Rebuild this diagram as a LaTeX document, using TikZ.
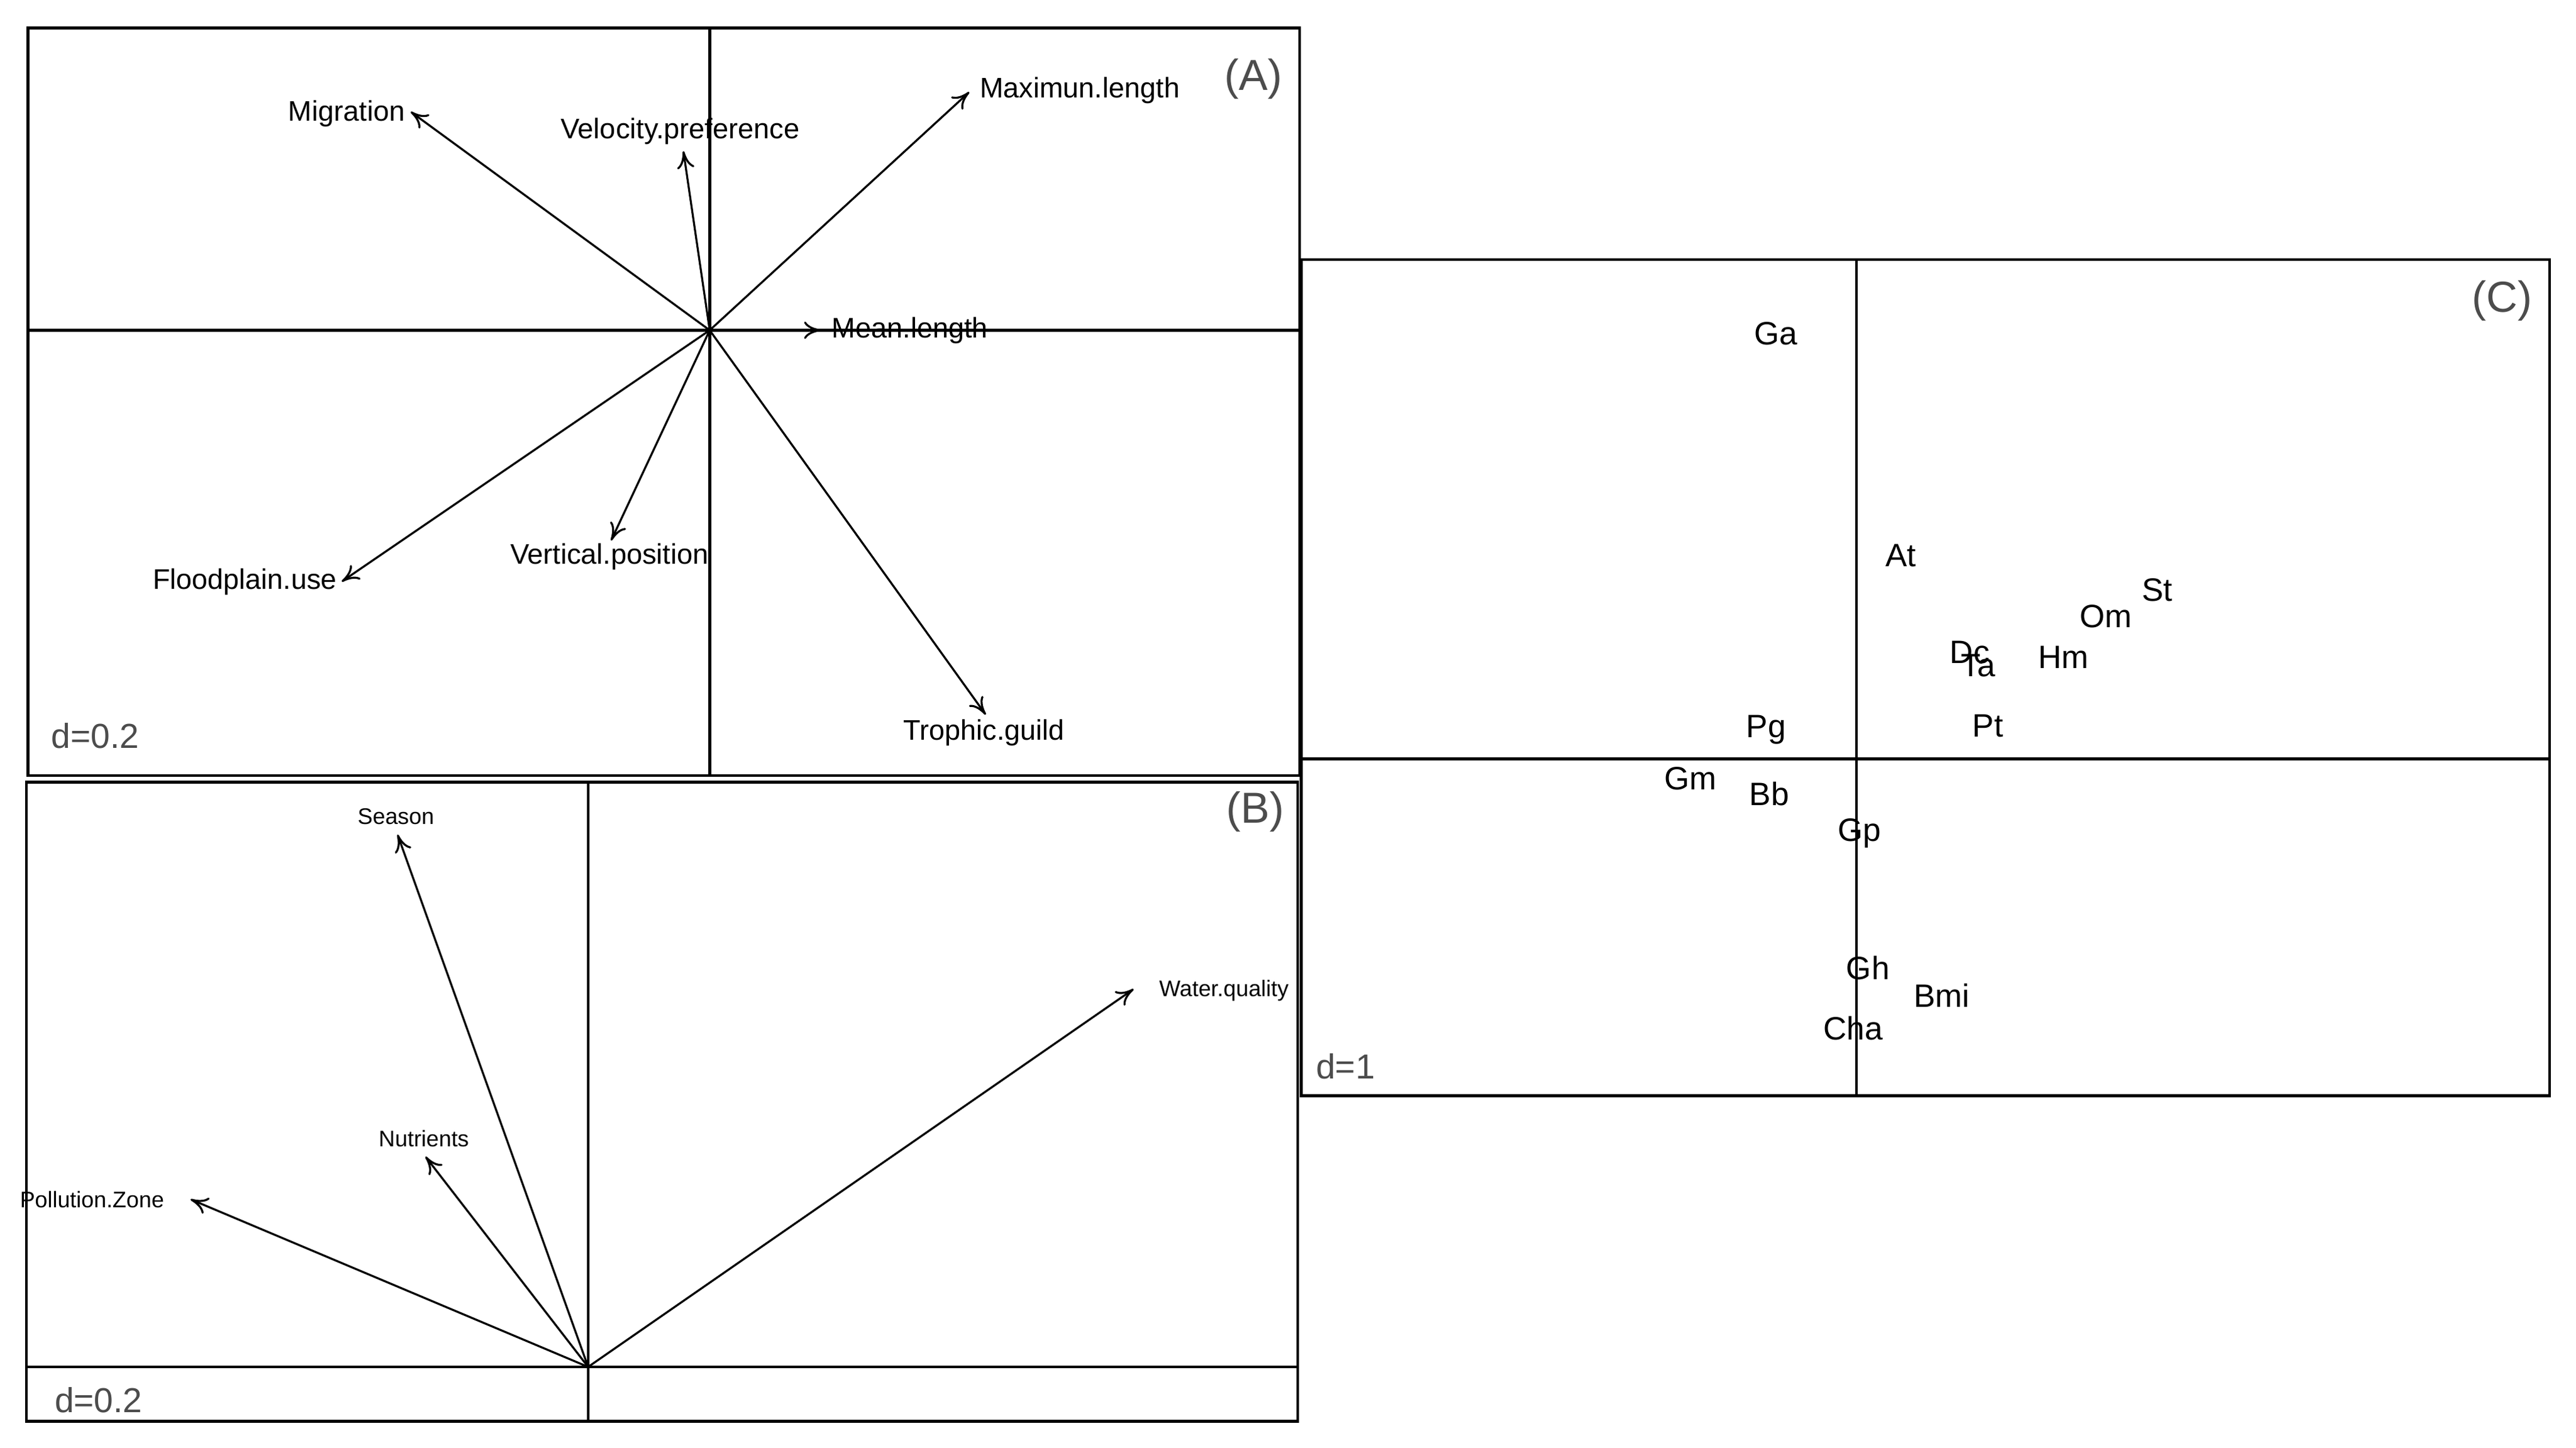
\documentclass[tikz,border=0pt]{standalone}
\usepackage{fontspec}
\setmainfont{Liberation Sans}
\usetikzlibrary{arrows.meta}
\begin{document}
\begin{tikzpicture}[x=0.01cm,y=-0.01cm,
  frame/.style={line width=0.5pt},
  ax/.style={line width=0.5pt},
  vec/.style={line width=0.35pt,-{To[length=3pt,width=3pt]}},
  lab/.style={font=\fontsize{4.9}{5}\selectfont,inner sep=0.5pt},
  labb/.style={font=\fontsize{3.9}{4}\selectfont,inner sep=0.5pt},
  labc/.style={font=\fontsize{5.6}{6}\selectfont,inner sep=0.5pt},
  dlab/.style={font=\fontsize{6}{7}\selectfont,text=black!70},
  plab/.style={font=\fontsize{7.5}{8}\selectfont,text=black!70}]
\useasboundingbox (0,0) rectangle (1568,881);
% Panel A
\draw[frame] (17,17) rectangle (791,472);
\draw[ax] (432,17) -- (432,472);
\draw[ax] (17,201) -- (791,201);
\coordinate (oA) at (432,201);
\coordinate (mig) at (250,68);
\coordinate (vel) at (416,92);
\coordinate (max) at (590,56);
\coordinate (mean) at (500,201);
\coordinate (flo) at (208,354);
\coordinate (ver) at (372,329);
\coordinate (tro) at (600,435);
\foreach \t in {mig,vel,max,mean,flo,ver,tro} \draw[vec] (oA) -- (\t);
\node[lab] (lmig) at (211,69) {Migration};
\node[lab] (lvel) at (414,80) {Velocity.preference};
\node[lab,anchor=west] (lmax) at (594,55) {Maximun.length};
\node[lab,anchor=west] (lmean) at (504,201) {Mean.length};
\node[lab] (lflo) at (149,354) {Floodplain.use};
\node[lab] (lver) at (371,339) {Vertical.position};
\node[lab] (ltro) at (599,446) {Trophic.guild};
\node[plab] (pa) at (763,48) {(A)};
\node[dlab] (da) at (58,448) {d=0.2};
% Panel B
\draw[frame] (16,476) rectangle (790,865);
\draw[ax] (358,476) -- (358,865);
\draw[ax] (16,832) -- (790,832);
\coordinate (oB) at (358,832);
\coordinate (sea) at (242,508);
\coordinate (wat) at (690,602);
\coordinate (nut) at (259,704);
\coordinate (pol) at (116,730);
\foreach \t in {sea,wat,nut,pol} \draw[vec] (oB) -- (\t);
\node[labb] (lsea) at (241,497) {Season};
\node[labb] (lwat) at (745,603) {Water.quality};
\node[labb] (lnut) at (258,693) {Nutrients};
\node[labb] (lpol) at (56,730) {Pollution.Zone};
\node[plab] (pb) at (764,494) {(B)};
\node[dlab] (db) at (60,852) {d=0.2};
% Panel C
\draw[frame] (792,158) rectangle (1552,667);
\draw[ax] (1130,158) -- (1130,667);
\draw[ax] (792,462) -- (1552,462);
\foreach \n/\x/\y in {Ga/1081/203,At/1157/338,St/1313/359,Om/1282/375,Dc/1199/397,Ta/1204/405,Hm/1256/400,Pt/1210/442,Pg/1075/444,Gm/1029/474,Bb/1077/483,Gp/1132/507,Gh/1137/589,Bmi/1182/606,Cha/1128/626}
  \node[labc] (s\n) at (\x,\y) {\n};
\node[plab] (pc) at (1523,183) {(C)};
\node[dlab] (dc) at (819,649) {d=1};
\end{tikzpicture}
\end{document}
